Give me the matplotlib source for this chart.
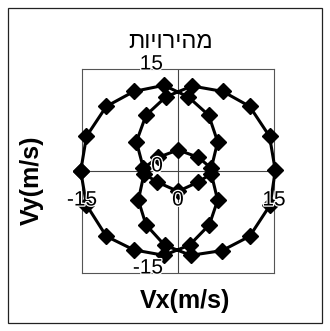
import matplotlib.pyplot as plt
import matplotlib.patheffects as pe
from matplotlib.patches import Rectangle

plt.rcParams['font.family'] = ['Liberation Sans', 'DejaVu Sans']

# velocity components along the closed path (m/s)
vx = [-15.2, -14.3, -11.2, -6.9, -2.2,
      1.6, 4.8, 6.2, 5.2,
      3.2, 0.0, -3.1, -5.4,
      -6.5, -5.0, -1.9,
      2.2, 7.0, 11.2, 14.3, 15.2,
      14.4, 11.2, 6.9, 2.0,
      -2.1, -5.0, -6.2, -5.3,
      -3.3, 0.0, 3.2, 5.2,
      6.2, 4.9, 1.8,
      -2.2, -6.9, -11.2, -14.3, -15.2]
vy = [0.0, 5.1, 9.5, 11.7, 12.6,
      10.9, 8.2, 4.3, 0.4,
      2.0, 3.1, 2.0, 0.4,
      4.3, 8.2, 10.9,
      12.5, 11.7, 9.5, 5.1, 0.1,
      -5.0, -9.6, -11.7, -12.4,
      -10.9, -7.9, -4.3, -0.4,
      -1.6, -3.0, -1.6, -0.4,
      -4.3, -7.9, -10.9,
      -12.4, -11.6, -9.6, -5.0, 0.0]

ticks = [-15, 0, 15]
tick_labels = ['-15', '0', '15']
title = 'מהירויות'

W, H = 330, 331
fig = plt.figure(figsize=(W / 100, H / 100), dpi=100)
fig.patches.append(Rectangle((8 / W, 8 / H), 314 / W, 315 / H, transform=fig.transFigure,
                             fill=False, edgecolor='#222222', linewidth=0.9))

ax = fig.add_axes([82 / W, 58 / H, 192 / W, 204 / H])
ax.set_xlim(-15, 15)
ax.set_ylim(-15, 15)
ax.set_xticks([])
ax.set_yticks([])
for s in ax.spines.values():
    s.set_color('#555555')
    s.set_linewidth(0.8)
ax.axhline(0, color='#444444', lw=0.8, zorder=1)
ax.axvline(0, color='#444444', lw=0.8, zorder=1)

ax.plot(vx, vy, color='black', lw=2.2, marker='D', ms=8.5,
        mfc='black', mec='black', zorder=3, clip_on=False)

halo = [pe.withStroke(linewidth=1.8, foreground='white')]
# x tick labels below the horizontal axis, y tick labels left of the vertical axis
for t, lab in zip(ticks, tick_labels):
    ax.annotate(lab, (t, 0), xytext=(0, -29), textcoords='offset pixels',
                ha='center', va='center', fontsize=15, zorder=5,
                path_effects=halo, annotation_clip=False)
    ax.annotate(lab, (0, t), xytext=(-15, 5), textcoords='offset pixels',
                ha='right', va='center', fontsize=15, zorder=5,
                path_effects=halo, annotation_clip=False)

fig.text(171 / W, 1 - 42 / H, title[::-1], ha='center', va='center', fontsize=17)
fig.text(185 / W, 1 - 301 / H, 'Vx(m/s)', ha='center', va='center',
         fontsize=18, fontweight='bold')
fig.text(32 / W, 1 - 180 / H, 'Vy(m/s)', ha='center', va='center',
         fontsize=18, fontweight='bold', rotation=90)

fig.savefig('out.png', dpi=100)
